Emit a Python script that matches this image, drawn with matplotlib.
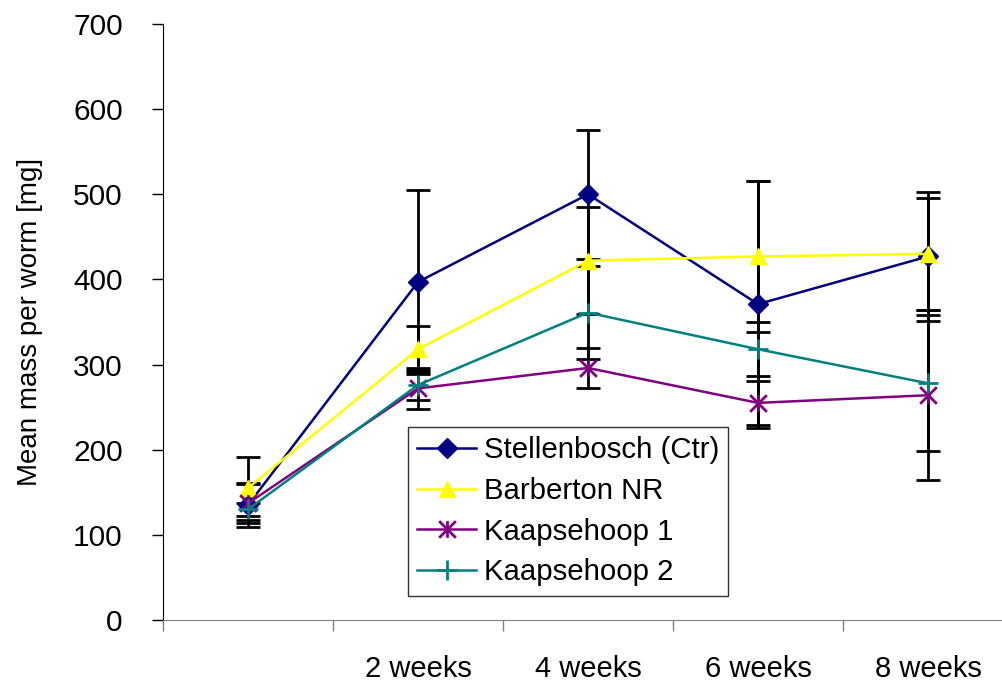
import numpy as np
import matplotlib.pyplot as plt
from matplotlib.path import Path

plt.rcParams['font.family'] = ['Liberation Sans', 'DejaVu Sans']

# category positions: first sampling (unlabelled) then 2, 4, 6, 8 weeks
labels = ["", "2 weeks", "4 weeks", "6 weeks", "8 weeks"]
series = ["Stellenbosch (Ctr)", "Barberton NR", "Kaapsehoop 1", "Kaapsehoop 2"]

stel = [135, 397, 500, 371, 427]
stel_err = [26, 108, 76, 145, 76]
barb = [155, 318, 422, 427, 430]
barb_err = [37, 27, 63, 89, 66]
kaap1 = [137, 272, 296, 255, 264]
kaap1_err = [23, 24, 23, 26, 100]
kaap2 = [130, 276, 361, 318, 278]
kaap2_err = [8, 18, 55, 32, 80]

colors = ["#000080", "#FFFF00", "#800080", "#008080"]

# asterisk marker like the spreadsheet "star"
star = Path([(0, -1), (0, 1), (-1, -1), (1, 1), (-1, 1), (1, -1)],
            [Path.MOVETO, Path.LINETO, Path.MOVETO, Path.LINETO, Path.MOVETO, Path.LINETO])
markers = ["D", "^", star, "+"]
msizes = [10, 12, 12, 14]

fig = plt.figure(figsize=(10.03, 6.83), dpi=100)
ax = fig.add_axes([163/1003, 63/683, 850/1003, 596/683])

x = np.arange(len(labels)) + 0.5
data = [(stel, stel_err), (barb, barb_err), (kaap1, kaap1_err), (kaap2, kaap2_err)]

for (vals, err) in data:
    ax.errorbar(x, vals, yerr=err, fmt="none", ecolor="black",
                elinewidth=2, capsize=8.5, capthick=2, zorder=2)

for (vals, err), name, c, m, ms in zip(data, series, colors, markers, msizes):
    ax.plot(x, vals, color=c, lw=1.8, marker=m, ms=ms, mew=2 if m in (star, "+") else 1,
            mec=c, mfc=c, label=name, zorder=3)

ax.set_xlim(0, 5)
ax.set_ylim(0, 700)
ax.set_yticks(np.arange(0, 701, 100))
ax.set_xticks(np.arange(0, 5))
ax.set_xticklabels([])
ax.set_xticks(x[1:], minor=True)
ax.set_xticklabels(labels[1:], minor=True)

ax.tick_params(axis="y", direction="out", length=8, width=1, pad=21, labelsize=21.5)
ax.tick_params(axis="x", which="major", direction="out", length=8, width=1, color="#808080")
ax.tick_params(axis="x", which="minor", length=0, pad=25, labelsize=21)

for s in ["top", "right"]:
    ax.spines[s].set_visible(False)
ax.spines["bottom"].set_color("#808080")
ax.spines["left"].set_color("black")

ax.set_ylabel("Mean mass per worm [mg]", fontsize=20, labelpad=22)

leg = ax.legend(loc="upper left", bbox_to_anchor=(408/1003, 1 - 427/683),
                bbox_transform=fig.transFigure, fontsize=21.2, frameon=True,
                fancybox=False, edgecolor="black", handlelength=2.0,
                handletextpad=0.25, labelspacing=0.43, borderpad=0.32,
                borderaxespad=0)
leg.get_frame().set_linewidth(1)

fig.savefig("out.png", dpi=100)
